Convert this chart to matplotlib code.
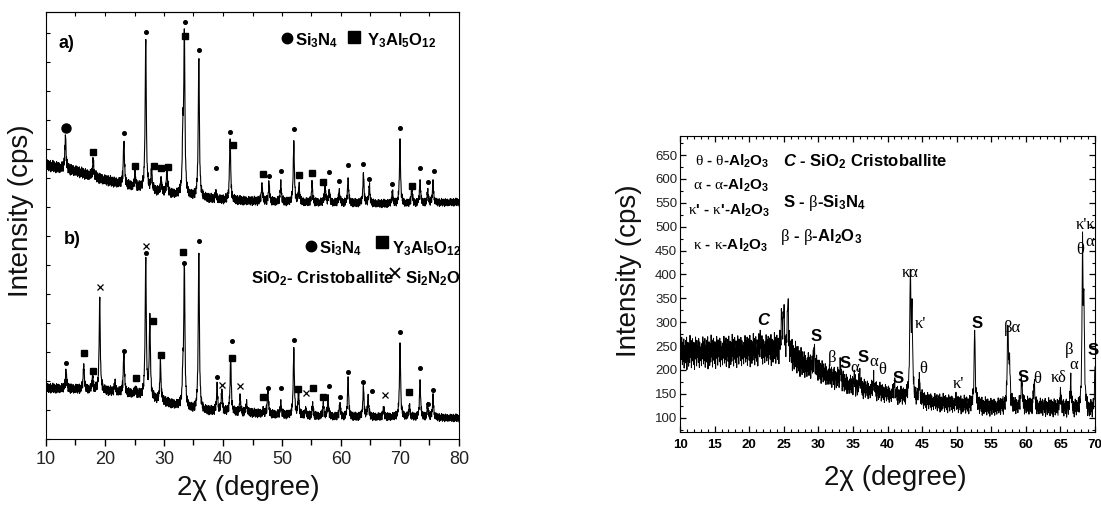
import numpy as np
import matplotlib
matplotlib.use("Agg")
import matplotlib.pyplot as plt
from matplotlib.ticker import MultipleLocator

plt.rcParams['font.family'] = ['Liberation Sans', 'DejaVu Sans']
plt.rcParams['mathtext.fontset'] = 'custom'
plt.rcParams['mathtext.rm'] = 'Liberation Serif'
plt.rcParams['mathtext.bf'] = 'Liberation Sans:bold'
plt.rcParams['mathtext.it'] = 'Liberation Sans:italic'
plt.rcParams['mathtext.bfit'] = 'Liberation Sans:italic:bold'
plt.rcParams['mathtext.sf'] = 'Liberation Sans'

# hand read jitter (fraction of the noise band), used for the noisy background
JITTER = [0.3, -0.8, 0.5, 0.1, -0.4, 0.9, -0.2, -0.7, 0.6, 0.0, -0.5, 0.8, -0.9, 0.2, 0.4,
          -0.3, 0.7, -0.6, 0.1, 0.9, -1.0, 0.3, -0.1, 0.6, -0.4, -0.8, 0.5, 0.2, -0.6, 1.0,
          -0.3, 0.0, 0.7, -0.9, 0.4, -0.2, 0.8, -0.5, 0.1, -0.7, 0.6, 0.3, -1.0, 0.5, -0.1,
          0.9, -0.4, 0.2, -0.8, 0.7, -0.3, 0.0, 0.4, -0.6, 0.8, -0.2, -0.9, 0.6, 0.1, -0.5, 0.3]

# ---------------- left figure: patterns a) and b) (arbitrary offset units) ----------------
a_base_x = [10, 15, 20, 25, 30, 35, 40, 50, 60, 70, 80]
a_base_y = [274, 268, 259, 252, 246, 242, 239, 237, 236, 235, 237]
a_noise_x = [10, 30, 80]
a_noise_y = [6, 5, 4]
a_peak_pos = [13.3, 18.0, 23.2, 25.1, 26.9, 27.9, 29.5, 30.5, 33.2, 33.45, 35.9, 38.8, 41.2,
              46.6, 47.8, 49.8, 52.0, 52.9, 55.1, 57.3, 58.0, 59.7, 61.2, 63.8, 64.8, 68.7,
              70.0, 72.0, 73.4, 74.7, 75.6]
a_peak_top = [304, 276, 296, 264, 400, 266, 262, 267, 300, 402, 383, 249, 300,
              256, 254, 259, 298, 254, 256, 254, 249, 249, 261, 266, 251, 247,
              300, 247, 259, 249, 259]
a_dot_x = [23.27, 26.9, 33.56, 35.93, 38.81, 41.19, 47.85, 49.78, 52.03, 57.97, 59.66, 61.24,
           63.78, 64.8, 68.7, 70.0, 73.39, 74.69, 75.8]
a_dot_y = [305.7, 407.3, 416.7, 389, 271.3, 307.3, 263.3, 267.7, 309.7, 267, 258, 273.7,
           275.3, 260, 255.3, 311.3, 271.3, 256.7, 268]
a_sq_x = [18.0, 25.1, 28.3, 29.5, 30.6, 33.6, 41.7, 46.7, 52.9, 55.1, 57.0, 72.0]
a_sq_y = [287.3, 273.3, 273, 270.7, 272.3, 403, 293.7, 265, 264, 265.7, 256.7, 253]

b_base_x = [10, 15, 20, 25, 28, 30, 35, 40, 45, 50, 60, 70, 80]
b_base_y = [51, 50, 48, 45, 40, 37, 29, 27, 26, 24, 22, 22, 21]
b_noise_x = [10, 30, 80]
b_noise_y = [5, 5, 4]
b_peak_pos = [13.4, 16.4, 17.9, 19.1, 21.7, 23.2, 25.2, 26.9, 27.6, 29.4, 33.2, 33.45, 35.9,
              39.0, 39.8, 41.3, 42.9, 44.0, 46.8, 47.6, 49.8, 52.0, 52.8, 54.0, 55.2, 57.0,
              57.8, 59.8, 61.2, 63.8, 64.6, 67.2, 70.0, 71.6, 73.4, 74.7, 75.6]
b_peak_top = [67, 75, 62, 142, 56, 84, 52, 180, 122, 79, 60, 172, 189,
              56, 49, 82, 42, 39, 32, 46, 39, 91, 42, 32, 37, 37,
              44, 32, 62, 53, 44, 32, 96, 32, 59, 35, 45]
b_dot_x = [13.34, 23.27, 26.9, 33.44, 35.98, 38.98, 41.58, 47.68, 49.78, 52.03, 57.97, 59.83,
           61.24, 63.78, 65.31, 70.0, 73.39, 74.69, 75.54]
b_dot_y = [75.7, 88.3, 185.7, 176.3, 198.3, 62.3, 98, 51, 50.7, 99, 53.3, 42.3,
           67.3, 57, 47.7, 107.3, 70.7, 34.7, 49]
b_sq_x = [16.39, 18.02, 25.25, 28.14, 29.49, 33.27, 41.58, 46.72, 52.77, 55.2, 57.0, 71.58]
b_sq_y = [85.7, 68, 60.7, 118, 84, 186.7, 81, 42, 49.7, 50.7, 42, 47]
b_x_x = [19.15, 26.9, 39.88, 42.88, 54.0, 67.46]
b_x_y = [152, 193, 53.7, 53, 45.7, 44]

# ---------------- right figure ----------------
r_base_x = [10, 15, 20, 24, 26, 28, 30, 32, 35, 40, 45, 50, 55, 60, 65, 68, 70]
r_base_y = [236, 238, 241, 243, 232, 212, 200, 185, 165, 150, 135, 128, 122, 124, 120, 115, 112]
r_noise_x = [10, 27, 30, 40, 70]
r_noise_y = [36, 34, 26, 20, 20]
r_peak_pos = [21.6, 24.7, 25.0, 25.6, 29.4, 33.2, 35.2, 36.0, 38.0, 41.0, 43.3, 43.55, 44.6,
              49.9, 52.6, 57.4, 57.65, 59.4, 61.2, 65.0, 66.5, 68.2, 68.4, 70.0]
r_peak_top = [283, 305, 300, 331, 245, 203, 199, 203, 199, 163, 390, 318, 192,
              153, 283, 283, 215, 165, 163, 163, 192, 455, 315, 205]
r_ticks_y = [100, 150, 200, 250, 300, 350, 400, 450, 500, 550, 600, 650]

# peak labels: (text, x, y, style)
r_labels = [("C", 22.0, 304, "c"), ("S", 29.7, 270, "s"), ("β", 32.0, 224, "g"),
            ("S", 33.9, 213, "s"), ("α", 35.2, 205, "g"), ("S", 36.4, 226, "s"),
            ("α", 38.0, 216, "g"), ("θ", 39.3, 199, "g"), ("S", 41.6, 182, "s"),
            ("κα", 43.3, 404, "g"), ("κ'", 44.8, 297, "g"), ("θ", 45.2, 203, "g"),
            ("κ'", 50.3, 171, "g"), ("S", 53.0, 297, "s"), ("βα", 58.1, 287, "g"),
            ("S", 59.6, 184, "s"), ("θ", 61.7, 180, "g"), ("κδ", 64.8, 184, "g"),
            ("β", 66.2, 241, "g"), ("α", 67.0, 211, "g"), ("κ'κ", 68.7, 503, "g"),
            ("θ", 67.9, 452, "g"), ("α", 69.3, 468, "g"), ("S", 69.7, 241, "s")]

# key text: (text, x, y, size)
r_legend = [(r"$\mathrm{\theta}$ - $\mathrm{\theta}$-Al$_\mathbf{2}$O$_\mathbf{3}$", 12.2, 638, 11),
            (r"$\mathrm{\alpha}$ - $\mathrm{\alpha}$-Al$_\mathbf{2}$O$_\mathbf{3}$", 11.9, 587, 11),
            (r"$\mathrm{\kappa}$' - $\mathrm{\kappa}$'-Al$_\mathbf{2}$O$_\mathbf{3}$", 11.1, 535, 11),
            (r"$\mathrm{\kappa}$ - $\mathrm{\kappa}$-Al$_\mathbf{2}$O$_\mathbf{3}$", 11.9, 461, 11),
            (r"$\mathbfit{C}$ - SiO$_\mathbf{2}$ Cristoballite", 24.9, 636, 12),
            (r"S - $\mathrm{\beta}$-Si$_\mathbf{3}$N$_\mathbf{4}$", 24.9, 550, 12),
            (r"$\mathrm{\beta}$ - $\mathrm{\beta}$-Al$_\mathbf{2}$O$_\mathbf{3}$", 24.5, 478, 12)]


def pattern(x, base_x, base_y, noise_x, noise_y, pos, top, hw):
    jit = np.resize(np.array(JITTER), len(x))
    y0 = np.interp(x, base_x, base_y) + jit * np.interp(x, noise_x, noise_y)
    y = y0.copy()
    for p, t in zip(pos, top):
        amp = t - np.interp(p, x, y0)
        y += amp / (1 + ((x - p) / hw) ** 2)
    return y


fig = plt.figure(figsize=(11.01, 5.05), dpi=100)

# ---------- left ----------
ax1 = fig.add_axes([46 / 1101, 1 - 439 / 505, 413 / 1101, 427 / 505])
xl = np.arange(10, 80.001, 0.04)
ya = pattern(xl, a_base_x, a_base_y, a_noise_x, a_noise_y, a_peak_pos, a_peak_top, 0.11)
yb = pattern(xl, b_base_x, b_base_y, b_noise_x, b_noise_y, b_peak_pos, b_peak_top, 0.11)
ax1.plot(xl, ya, color='k', lw=0.8)
ax1.plot(xl, yb, color='k', lw=0.8)

ax1.plot(a_dot_x, a_dot_y, 'o', color='k', ms=2.6, ls='none')
ax1.plot(a_sq_x, a_sq_y, 's', color='k', ms=4.0, ls='none')
ax1.plot([13.4], [311], 'o', color='k', ms=6.5, ls='none')
ax1.plot(b_dot_x, b_dot_y, 'o', color='k', ms=2.6, ls='none')
ax1.plot(b_sq_x, b_sq_y, 's', color='k', ms=4.0, ls='none')
ax1.plot(b_x_x, b_x_y, 'x', color='k', ms=4.2, mew=0.9, ls='none')

# legends drawn inside the panel
ax1.plot([50.85], [401], 'o', color='k', ms=7.5)
ax1.text(52.2, 398, r"Si$_\mathbf{3}$N$_\mathbf{4}$", fontsize=12, fontweight='bold', va='center')
ax1.plot([62.2], [402], 's', color='k', ms=8)
ax1.text(64.4, 398, r"Y$_\mathbf{3}$Al$_\mathbf{5}$O$_\mathbf{12}$", fontsize=12, fontweight='bold', va='center')
ax1.text(12.1, 396, "a)", fontsize=13, fontweight='bold', va='center')

ax1.plot([54.9], [193], 'o', color='k', ms=7.5)
ax1.text(56.3, 190, r"Si$_\mathbf{3}$N$_\mathbf{4}$", fontsize=12, fontweight='bold', va='center')
ax1.plot([66.9], [197], 's', color='k', ms=8)
ax1.text(68.6, 190, r"Y$_\mathbf{3}$Al$_\mathbf{5}$O$_\mathbf{12}$", fontsize=12, fontweight='bold', va='center')
ax1.text(44.8, 160, r"SiO$_\mathbf{2}$- Cristoballite", fontsize=12, fontweight='bold', va='center')
ax1.plot([69.15], [166], 'x', color='k', ms=7, mew=1.3)
ax1.text(70.9, 160, r"Si$_\mathbf{2}$N$_\mathbf{2}$O", fontsize=12, fontweight='bold', va='center')
ax1.text(13.0, 199, "b)", fontsize=13, fontweight='bold', va='center')

ax1.set_xlim(10, 80)
ax1.set_ylim(0, 427)
ax1.set_xticks(np.arange(10, 81, 10))
ax1.xaxis.set_minor_locator(MultipleLocator(5))
ax1.tick_params(axis='x', which='major', direction='out', length=5, width=1, labelsize=13,
                labelcolor='#222222', pad=4)
ax1.tick_params(axis='x', which='minor', direction='out', length=4, width=1)
ax1.set_yticks(np.arange(0, 427, 29))
ax1.tick_params(axis='y', direction='in', length=3, width=0.8, labelleft=False)
top1 = ax1.secondary_xaxis('top')
top1.set_xticks(np.arange(10, 81, 5))
top1.tick_params(direction='in', length=3, width=0.8, labeltop=False)
ax1.set_xlabel("2χ (degree)", fontsize=20, color='#111111')
ax1.xaxis.set_label_coords(0.489, -0.085)
ax1.set_ylabel("Intensity (cps)", fontsize=20, color='#111111')
ax1.yaxis.set_label_coords(-0.03, 0.534)

# ---------- right ----------
ax2 = fig.add_axes([680 / 1101, 1 - 432 / 505, 415 / 1101, 296 / 505])
xr = np.arange(10, 70.001, 0.05)
yr = pattern(xr, r_base_x, r_base_y, r_noise_x, r_noise_y, r_peak_pos, r_peak_top, 0.09)
ax2.plot(xr, yr, color='k', lw=0.7)

for txt, x, y, kind in r_labels:
    if kind == "s":
        ax2.text(x, y, txt, fontsize=12, fontweight='bold', ha='center', va='center')
    elif kind == "c":
        ax2.text(x, y, txt, fontsize=12, fontweight='bold', fontstyle='italic', ha='center', va='center')
    else:
        ax2.text(x, y, txt, fontsize=12, family='Liberation Serif', ha='center', va='center')

for txt, x, y, size in r_legend:
    ax2.text(x, y, txt, fontsize=size, fontweight='bold', va='center')

ax2.set_xlim(10, 70)
ax2.set_ylim(70, 690)
ax2.set_xticks(np.arange(10, 71, 5))
ax2.set_yticks(r_ticks_y)
ax2.xaxis.set_minor_locator(MultipleLocator(1))
ax2.yaxis.set_minor_locator(MultipleLocator(25))
ax2.tick_params(which='both', direction='in', top=True, right=True)
ax2.tick_params(which='major', length=4, width=0.9)
ax2.tick_params(which='minor', length=2, width=0.8)
ax2.tick_params(axis='y', labelsize=9.5, pad=2, labelcolor='#222222')
ax2.tick_params(axis='x', labelsize=9.5, pad=5)
for lab in ax2.get_xticklabels():
    lab.set_fontweight('bold')
ax2.set_xlabel("2χ (degree)", fontsize=20, color='#111111')
ax2.xaxis.set_label_coords(0.518, -0.11)
ax2.set_ylabel("Intensity (cps)", fontsize=20, color='#111111')
ax2.yaxis.set_label_coords(-0.092, 0.544)

fig.savefig("out.png", dpi=100)
